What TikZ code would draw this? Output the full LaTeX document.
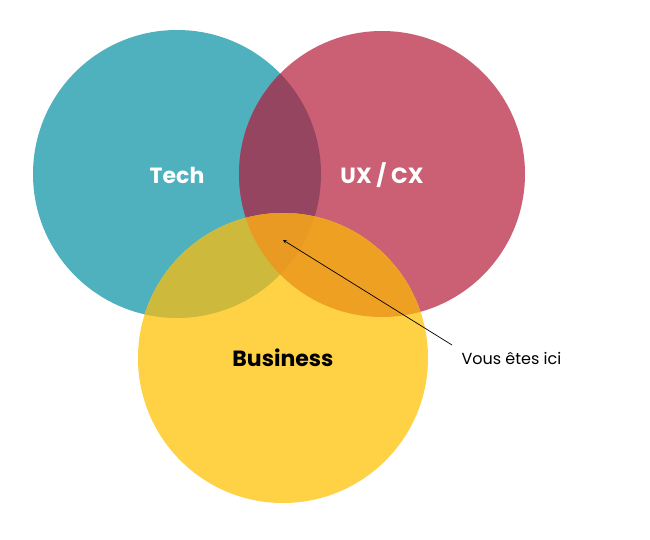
\documentclass[tikz,border=0pt]{standalone}
\usepackage{fontspec}
\setmainfont{Poppins}
\begin{document}
\begin{tikzpicture}[x=1pt,y=-1pt,
  lbl/.style={font=\fontsize{22}{26}\selectfont\bfseries},
  note/.style={font=\fontsize{16}{20}\selectfont, anchor=west}]
\definecolor{cT}{HTML}{4FB0BE}
\definecolor{cU}{HTML}{CB5F74}
\definecolor{cB}{HTML}{FFD145}
\definecolor{cTU}{HTML}{964560}
\definecolor{cTB}{HTML}{CDBA3C}
\definecolor{cUB}{HTML}{EEA022}
\definecolor{cTUB}{HTML}{E99A22}
\useasboundingbox[fill=white] (0,0) rectangle (650,540);
\def\T{(177,174) circle (144)}
\def\U{(382,174) circle (143)}
\def\B{(283,358) circle (145)}
\fill[cT] \T; \fill[cU] \U; \fill[cB] \B;
\begin{scope}\clip \T; \fill[cTU] \U; \fill[cTB] \B; \end{scope}
\begin{scope}\clip \U; \fill[cUB] \B; \end{scope}
\begin{scope}\clip \T; \clip \U; \fill[cTUB] \B; \end{scope}
\node[lbl,text=white] (tech) at (177,175) {Tech};
\node[lbl,text=white] (ux) at (382,175) {UX / CX};
\node[lbl,text=black] (bus) at (283,358) {Business};
\node[note] (here) at (458,358) {Vous êtes ici};
\coordinate (tip) at (283,240);
\coordinate (elbow) at (452,345);
\draw[-stealth, line width=0.7] (elbow) -- (tip);
\end{tikzpicture}
\end{document}
